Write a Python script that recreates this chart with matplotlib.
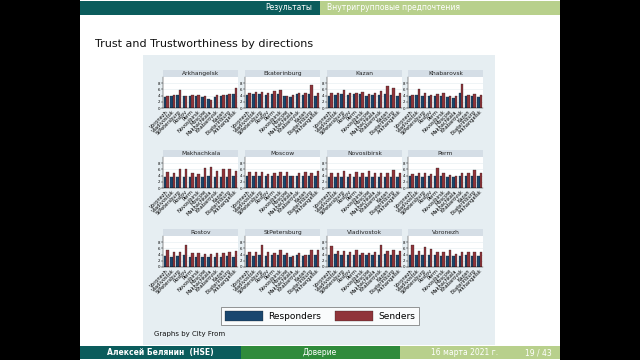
import matplotlib

matplotlib.use("Agg")
import matplotlib.pyplot as plt
import numpy as np
from matplotlib.patches import Rectangle

W, H = 640, 360

panels = ["Arkhangelsk", "Ekaterinburg", "Kazan", "Khabarovsk",
          "Makhachkala", "Moscow", "Novosibirsk", "Perm",
          "Rostov", "StPetersburg", "Vladivostok", "Voronezh"]

directions = ["Voronezh", "Vladivostok", "StPetersburg", "Rostov", "Perm",
              "Novosibirsk", "Moscow", "Makhachkala", "Khabarovsk", "Kazan",
              "Ekaterinburg", "Arkhangelsk"]

responders = {
    "Arkhangelsk":  [3.6, 3.9, 4.2, 3.8, 3.9, 3.8, 3.5, 2.9, 3.4, 4.0, 4.3, 4.6],
    "Ekaterinburg": [4.2, 4.4, 4.6, 4.3, 4.5, 4.5, 3.8, 3.6, 4.4, 4.3, 4.6, 4.0],
    "Kazan":        [4.0, 4.3, 4.5, 4.1, 4.4, 4.4, 4.0, 4.1, 4.3, 4.4, 4.1, 4.0],
    "Khabarovsk":   [3.8, 4.2, 4.0, 4.0, 3.8, 3.8, 3.4, 3.3, 5.0, 3.8, 3.8, 3.6],
    "Makhachkala":  [3.5, 3.6, 3.4, 3.6, 3.6, 3.4, 3.6, 3.8, 3.6, 3.4, 3.6, 3.9],
    "Moscow":       [3.8, 3.9, 3.9, 3.8, 3.8, 3.9, 3.8, 3.8, 3.8, 3.8, 3.9, 3.8],
    "Novosibirsk":  [3.6, 3.5, 3.6, 3.6, 3.5, 3.6, 3.6, 3.5, 3.6, 3.5, 3.6, 3.6],
    "Perm":         [3.8, 3.9, 3.5, 3.8, 4.0, 4.0, 3.4, 3.4, 3.8, 4.0, 4.0, 3.9],
    "Rostov":       [3.4, 3.3, 3.4, 4.0, 3.3, 3.2, 3.3, 3.1, 3.3, 3.3, 3.5, 3.3],
    "StPetersburg": [3.8, 3.6, 4.0, 3.6, 3.8, 4.0, 3.8, 3.3, 3.8, 3.7, 3.8, 3.8],
    "Vladivostok":  [4.0, 4.3, 4.0, 4.0, 4.0, 4.0, 3.8, 4.0, 4.0, 4.2, 3.8, 4.0],
    "Voronezh":     [4.0, 3.8, 4.0, 3.8, 3.8, 3.6, 3.6, 3.6, 3.6, 3.8, 3.6, 3.6],
}
senders = {
    "Arkhangelsk":  [3.8, 4.2, 5.7, 3.8, 4.2, 4.2, 3.9, 2.5, 4.2, 4.2, 4.6, 6.5],
    "Ekaterinburg": [4.8, 5.1, 5.2, 4.9, 5.4, 5.8, 4.0, 4.2, 4.8, 5.0, 7.3, 5.0],
    "Kazan":        [4.8, 5.0, 5.8, 5.0, 5.0, 5.2, 4.6, 4.7, 5.4, 7.2, 6.3, 5.0],
    "Khabarovsk":   [4.2, 6.2, 4.8, 4.3, 4.5, 5.0, 3.8, 3.8, 7.6, 4.3, 4.6, 4.2],
    "Makhachkala":  [5.2, 4.8, 6.0, 6.0, 4.8, 4.6, 6.3, 6.8, 5.5, 6.0, 6.0, 5.6],
    "Moscow":       [5.2, 5.2, 5.2, 4.5, 4.8, 5.2, 5.2, 3.9, 4.8, 5.2, 5.0, 5.4],
    "Novosibirsk":  [4.8, 5.0, 5.4, 4.6, 5.2, 5.0, 5.6, 4.8, 5.0, 5.0, 5.8, 4.9],
    "Perm":         [4.6, 4.8, 4.8, 4.6, 6.4, 4.8, 4.2, 4.0, 4.8, 4.8, 5.8, 4.8],
    "Rostov":       [5.4, 4.8, 5.0, 7.2, 4.4, 4.6, 4.2, 4.2, 4.6, 4.6, 4.8, 5.2],
    "StPetersburg": [4.8, 4.8, 7.0, 4.8, 4.6, 5.4, 4.4, 3.6, 4.4, 4.0, 5.6, 5.6],
    "Vladivostok":  [6.8, 5.2, 5.2, 4.8, 5.4, 4.6, 4.6, 4.8, 7.0, 5.2, 5.4, 5.2],
    "Voronezh":     [7.0, 5.2, 6.4, 5.8, 5.0, 4.8, 5.4, 4.2, 4.8, 4.8, 4.8, 5.0],
}
yticks = [0, 2, 4, 6, 8]

NAVY = "#1a476f"
MAROON = "#90353b"
TEAL = "#0b5c5c"
GREEN = "#2f8b3b"
LIGHT = "#b8d08c"


def box(x, y, w, h):
    # pixel box (top-left origin) -> figure coords
    return (x / W, 1 - (y + h) / H, w / W, h / H)


fig = plt.figure(figsize=(6.4, 3.6), dpi=100)
fig.patch.set_facecolor("black")


def rect(x, y, w, h, color, z=0):
    fig.patches.append(Rectangle(box(x, y, w, h)[:2], w / W, h / H,
                                 transform=fig.transFigure, facecolor=color,
                                 edgecolor="none", zorder=z))


# slide, header, footer
rect(80, 0, 480, 360, "white")
rect(80, 1, 240, 14, TEAL, 1)
rect(320, 1, 240, 14, LIGHT, 1)
fig.text(312 / W, 1 - 8 / H, "Результаты", color="white", fontsize=5.5,
         ha="right", va="center")
fig.text(327 / W, 1 - 8 / H, "Внутригрупповые предпочтения", color="white",
         fontsize=5.5, ha="left", va="center")
rect(80, 346, 161, 13, TEAL, 1)
rect(241, 346, 159, 13, GREEN, 1)
rect(400, 346, 160, 13, LIGHT, 1)
fy = 1 - 352.5 / H
fig.text(160 / W, fy, "Алексей Белянин  (HSE)", color="white", fontsize=5.5,
         ha="center", va="center", weight="bold")
fig.text(320 / W, fy, "Доверие", color="white", fontsize=5.5,
         ha="center", va="center")
fig.text(465 / W, fy, "16 марта 2021 г.", color="white", fontsize=5.5,
         ha="center", va="center")
fig.text(538 / W, fy, "19 / 43", color="white", fontsize=5.5,
         ha="center", va="center")

fig.text(95 / W, 1 - 44 / H, "Trust and Trustworthiness by directions",
         fontsize=8, ha="left", va="center", color="#111111")

# Stata graph region
rect(143, 55, 352, 290, "#e6eef2", 1)

col_x = [163, 245, 327, 408]
row_y = [77, 157, 236]
pw, ph = 75, 31
x = np.arange(len(directions))
bw = 0.4

axes = []
for i, city in enumerate(panels):
    cx = col_x[i % 4]
    ry = row_y[i // 4]
    rect(cx, ry - 7, pw, 7, "#d5dee6", 2)
    fig.text((cx + pw / 2) / W, 1 - (ry - 3.5) / H, city, fontsize=4.3,
             ha="center", va="center", color="#222222", zorder=3)
    ax = fig.add_axes(box(cx, ry, pw, ph))
    ax.set_zorder(3)
    ax.bar(x - bw / 2, responders[city], width=bw, color=NAVY,
           edgecolor="#1a1a1a", linewidth=0.2, label="Responders")
    ax.bar(x + bw / 2, senders[city], width=bw, color=MAROON,
           edgecolor="#1a1a1a", linewidth=0.2, label="Senders")
    ax.set_xlim(-0.55, len(directions) - 0.45)
    ax.set_ylim(0, 10)
    ax.set_yticks(yticks)
    ax.set_yticklabels([str(t) for t in yticks], fontsize=2.8)
    ax.yaxis.grid(True, color="#e4ecf0", linewidth=0.4)
    ax.set_axisbelow(True)
    ax.set_xticks(x)
    ax.set_xticklabels(directions, rotation=45, ha="right",
                       rotation_mode="anchor", fontsize=3.7)
    ax.tick_params(axis="both", length=1.2, width=0.3, pad=0.8)
    ax.tick_params(axis="x", length=0)
    for s in ("top", "right"):
        ax.spines[s].set_visible(False)
    ax.spines["left"].set_linewidth(0.3)
    ax.spines["bottom"].set_linewidth(0.3)
    ax.set_facecolor("white")
    axes.append(ax)

handles, labels = axes[0].get_legend_handles_labels()
leg = fig.legend(handles, labels, ncol=2, loc="center",
                 bbox_to_anchor=(320 / W, 1 - 316 / H), fontsize=6.5,
                 frameon=True, fancybox=False, edgecolor="#666666",
                 handlelength=4.2, handleheight=1.3, columnspacing=1.5,
                 borderpad=0.4, handletextpad=0.6)
leg.get_frame().set_linewidth(0.6)
leg.set_zorder(4)

fig.text(154 / W, 1 - 334 / H, "Graphs by City From", fontsize=5,
         ha="left", va="center", color="#111111", zorder=3)

fig.savefig("out.png", dpi=100, facecolor=fig.get_facecolor())
